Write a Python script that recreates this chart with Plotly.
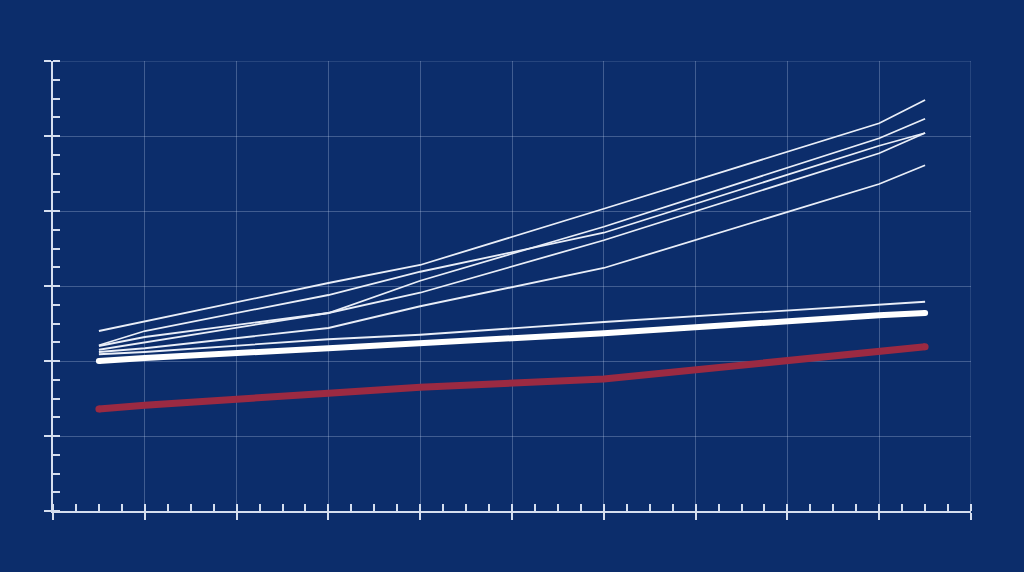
import plotly.graph_objects as go

# x positions of the observations (axis runs 0..10, major ticks every 1)
x_vals = [0.5, 1, 3, 4, 6, 9, 9.5]

# thin white series
series_a = [2.40, 2.53, 3.04, 3.28, 4.03, 5.17, 5.48]
series_b = [2.21, 2.40, 2.88, 3.19, 3.71, 4.87, 5.04]
series_c = [2.20, 2.32, 2.64, 3.07, 3.79, 4.97, 5.23]
series_d = [2.15, 2.25, 2.64, 2.91, 3.61, 4.77, 5.04]
series_e = [2.12, 2.17, 2.44, 2.73, 3.24, 4.36, 4.61]
series_f = [2.09, 2.12, 2.29, 2.35, 2.52, 2.76, 2.79]
thin_series = [series_a, series_b, series_c, series_d, series_e, series_f]

# highlighted series
series_white = [2.00, 2.04, 2.17, 2.23, 2.37, 2.61, 2.64]
series_red = [1.36, 1.41, 1.57, 1.65, 1.76, 2.12, 2.19]

BG = "#0c2d6b"
GRID = "rgba(190,205,235,0.30)"
AXIS = "#d5deef"
THIN = "#e9eef8"
RED = "#9b2a42"

fig = go.Figure()

for s in thin_series:
    fig.add_trace(go.Scatter(x=x_vals, y=s, mode="lines",
                             line=dict(color=THIN, width=1.8),
                             showlegend=False, hoverinfo="skip"))

fig.add_trace(go.Scatter(x=x_vals, y=series_white, mode="lines",
                         line=dict(color="#ffffff", width=6),
                         showlegend=False, hoverinfo="skip"))
fig.add_trace(go.Scatter(x=[x_vals[0], x_vals[-1]], y=[series_white[0], series_white[-1]],
                         mode="markers", marker=dict(color="#ffffff", size=6),
                         showlegend=False, hoverinfo="skip"))

fig.add_trace(go.Scatter(x=x_vals, y=series_red, mode="lines",
                         line=dict(color=RED, width=7),
                         showlegend=False, hoverinfo="skip"))
fig.add_trace(go.Scatter(x=[x_vals[0], x_vals[-1]], y=[series_red[0], series_red[-1]],
                         mode="markers", marker=dict(color=RED, size=7),
                         showlegend=False, hoverinfo="skip"))

axis_common = dict(
    showgrid=True, gridcolor=GRID, gridwidth=1,
    showline=True, linecolor=AXIS, linewidth=2,
    ticks="outside", ticklen=7, tickwidth=2, tickcolor=AXIS,
    showticklabels=False, zeroline=False, fixedrange=True,
    minor=dict(ticks="inside", ticklen=7, tickwidth=1.5, tickcolor=AXIS,
               dtick=0.25, showgrid=False),
)

fig.update_xaxes(range=[0, 10], dtick=1, tick0=0, **axis_common)
fig.update_yaxes(range=[0, 6], dtick=1, tick0=0, **axis_common)

fig.update_layout(
    width=1024, height=572,
    paper_bgcolor=BG, plot_bgcolor=BG,
    margin=dict(l=53, r=53, t=61, b=61),
    showlegend=False,
)

# right and top boundary grid lines
fig.add_shape(type="line", xref="x", yref="paper", x0=10, x1=10, y0=0, y1=1,
              line=dict(color=GRID, width=1), layer="below")
fig.add_shape(type="line", xref="paper", yref="y", x0=0, x1=1, y0=6, y1=6,
              line=dict(color=GRID, width=1), layer="below")

fig.write_html(
    "out.html",
    config={"displayModeBar": False},
    post_script="document.body.style.margin='0';document.body.style.background='#0c2d6b';document.body.style.overflow='hidden';",
)
